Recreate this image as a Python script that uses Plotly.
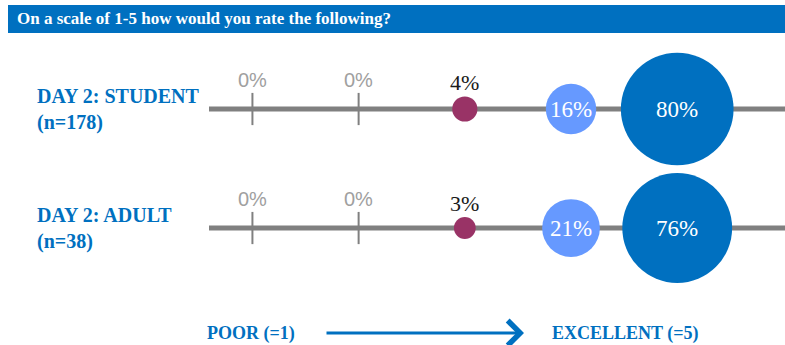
import math
import plotly.graph_objects as go

# Rating scale 1 (poor) .. 5 (excellent)
ratings = [1, 2, 3, 4, 5]
group_labels = ["DAY 2: STUDENT<br>(n=178)", "DAY 2: ADULT<br>(n=38)"]
student_pct = [0, 0, 4, 16, 80]
adult_pct = [0, 0, 3, 21, 76]
rating_colors = ["#808080", "#808080", "#993366", "#6699FF", "#0070C0"]

title_text = "On a scale of 1-5 how would you rate the following?"
low_label = "POOR (=1)"
high_label = "EXCELLENT (=5)"

W, H = 785, 345
BLUE = "#0070C0"
SERIF = "Liberation Serif"
BUBBLE_K = 12.6  # bubble diameter per sqrt(percent) -> area proportional to share


def px_x(p):
    return p / W


def px_y(p):
    return 1 - p / H


fig = go.Figure()
annotations = []
shapes = []

for row, vals in enumerate([student_pct, adult_pct]):
    # horizontal scale line for this group
    shapes.append(dict(type="line", xref="paper", yref="y", x0=px_x(209), x1=1,
                       y0=row, y1=row, line=dict(color="#808080", width=5),
                       layer="below"))

    # empty categories drawn as tick marks
    zx = [r for r, v in zip(ratings, vals) if v == 0]
    fig.add_trace(go.Scatter(
        x=zx, y=[row] * len(zx), mode="markers", hoverinfo="skip",
        marker=dict(symbol="line-ns", size=23,
                    line=dict(color="#808080", width=2))))

    # non-empty categories as bubbles
    bx = [r for r, v in zip(ratings, vals) if v > 0]
    bv = [v for v in vals if v > 0]
    bc = [c for c, v in zip(rating_colors, vals) if v > 0]
    fig.add_trace(go.Scatter(
        x=bx, y=[row] * len(bx), mode="markers", hoverinfo="skip",
        marker=dict(size=[BUBBLE_K * math.sqrt(v) for v in bv], color=bc,
                    opacity=1, line=dict(width=0))))

    # value labels
    for r, v in zip(ratings, vals):
        diam = BUBBLE_K * math.sqrt(v)
        if v == 0:
            annotations.append(dict(
                x=r, y=row, xref="x", yref="y", text=f"{v}%", showarrow=False,
                yshift=29, font=dict(family="Liberation Sans", size=20,
                                     color="#A0A0A0")))
        elif diam < 35:
            annotations.append(dict(
                x=r, y=row, xref="x", yref="y", text=f"{v}%", showarrow=False,
                yshift=diam / 2 + 14, font=dict(family=SERIF, size=22,
                                                color="#1a1a1a")))
        else:
            annotations.append(dict(
                x=r, y=row, xref="x", yref="y", text=f"{v}%", showarrow=False,
                font=dict(family=SERIF, size=23, color="white")))

    # group label on the left
    annotations.append(dict(
        x=px_x(35), y=row, xref="paper", yref="y", text=f"<b>{group_labels[row]}</b>",
        showarrow=False, xanchor="left", yanchor="middle", align="left",
        font=dict(family=SERIF, size=20, color=BLUE)))

# title banner
shapes.append(dict(type="rect", xref="paper", yref="paper",
                   x0=px_x(8), x1=1, y0=px_y(33), y1=px_y(5),
                   fillcolor=BLUE, line=dict(width=0), layer="below"))
annotations.append(dict(
    x=px_x(15), y=px_y(19), xref="paper", yref="paper", text=f"<b>{title_text}</b>",
    showarrow=False, xanchor="left", yanchor="middle",
    font=dict(family=SERIF, size=17, color="white")))

# bottom scale legend
annotations.append(dict(
    x=px_x(205), y=px_y(333), xref="paper", yref="paper", text=f"<b>{low_label}</b>",
    showarrow=False, xanchor="left", yanchor="middle",
    font=dict(family=SERIF, size=18, color=BLUE)))
annotations.append(dict(
    x=px_x(550), y=px_y(333), xref="paper", yref="paper", text=f"<b>{high_label}</b>",
    showarrow=False, xanchor="left", yanchor="middle",
    font=dict(family=SERIF, size=18, color=BLUE)))
annotations.append(dict(
    x=px_x(524), y=px_y(333), xref="paper", yref="paper", text="",
    showarrow=True, ax=-199, ay=0, axref="pixel", ayref="pixel",
    arrowhead=4, arrowsize=1.6, arrowwidth=3, arrowcolor=BLUE))

fig.update_layout(
    width=W, height=H,
    margin=dict(l=0, r=0, t=0, b=0),
    paper_bgcolor="white", plot_bgcolor="white",
    showlegend=False,
    xaxis=dict(range=[-1.377, 6.015], visible=False, fixedrange=True),
    yaxis=dict(range=[1.983, -0.916], visible=False, fixedrange=True),
    shapes=shapes,
    annotations=annotations,
)

fig.write_html("out.html", config={"displayModeBar": False})
